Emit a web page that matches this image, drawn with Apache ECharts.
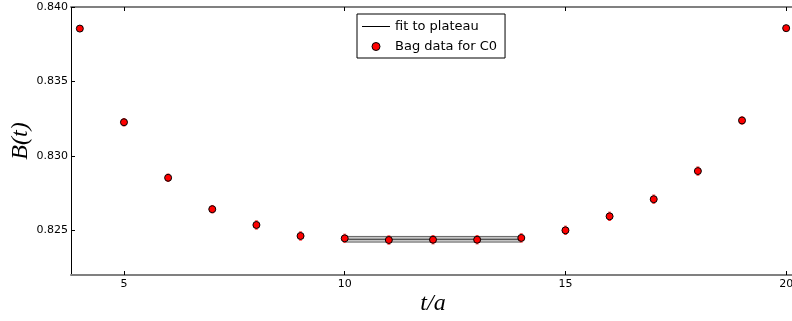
<!DOCTYPE html>
<html>
<head>
<meta charset="utf-8">
<script src="https://cdn.jsdelivr.net/npm/echarts@6/dist/echarts.min.js"></script>
<style>
  html, body { margin: 0; padding: 0; background: #fff; }
  #chart { width: 792px; height: 321px; }
</style>
</head>
<body>
<div id="chart"></div>
<script>
// data
var tValues = [4, 5, 6, 7, 8, 9, 10, 11, 12, 13, 14, 15, 16, 17, 18, 19, 20];
var bagValues = [0.83855, 0.83226, 0.82853, 0.82642, 0.82536, 0.82462, 0.82446, 0.82435, 0.82437, 0.82437, 0.82449, 0.82500, 0.82594, 0.82709, 0.82898, 0.83238, 0.83858];
var bagErrors = [0.00015, 0.00025, 0.00025, 0.00025, 0.00028, 0.00028, 0.00028, 0.00028, 0.00028, 0.00028, 0.00028, 0.00028, 0.00028, 0.00028, 0.00028, 0.00025, 0.00015];
var fitRange = [10, 14];
var fitValue = 0.82440;
var fitError = 0.00019;
var xTicks = [5, 10, 15, 20];
var yTicks = [0.825, 0.830, 0.835, 0.840];

var myChart = echarts.init(document.getElementById("chart"));

var points = [];
var errs = [];
for (var i = 0; i < tValues.length; i++) {
  points.push([tValues[i], bagValues[i]]);
  errs.push([tValues[i], bagValues[i] - bagErrors[i], bagValues[i] + bagErrors[i]]);
}

// error bars drawn as a custom series
function drawError(params, api) {
  var top = api.coord([api.value(0), api.value(2)]);
  var bot = api.coord([api.value(0), api.value(1)]);
  var st = { stroke: "#ff4040", lineWidth: 1 };
  return {
    type: "group",
    children: [
      { type: "line", shape: { x1: top[0], y1: top[1], x2: bot[0], y2: bot[1] }, style: st },
      { type: "line", shape: { x1: top[0] - 1.5, y1: top[1], x2: top[0] + 1.5, y2: top[1] }, style: st },
      { type: "line", shape: { x1: bot[0] - 1.5, y1: bot[1], x2: bot[0] + 1.5, y2: bot[1] }, style: st }
    ]
  };
}

// grey band of the plateau fit
function drawBand(params, api) {
  var a = api.coord([api.value(0), api.value(3)]);
  var b = api.coord([api.value(1), api.value(2)]);
  return {
    type: "rect",
    shape: { x: a[0], y: a[1], width: b[0] - a[0], height: b[1] - a[1] },
    style: { fill: "#c4c4c4", stroke: "#666", lineWidth: 1 }
  };
}

var tickFont = { fontFamily: "DejaVu Sans", fontSize: 11, color: "#000" };

myChart.setOption({
  animation: false,
  grid: { left: 71, top: 7, right: -3, bottom: 46, outerBoundsMode: "none", containLabel: false },
  legend: {
    orient: "vertical",
    left: 357,
    top: 14,
    padding: [6, 8, 5, 5],
    itemGap: 7,
    itemWidth: 28,
    itemHeight: 8,
    borderColor: "#000",
    borderWidth: 1,
    borderRadius: 0,
    backgroundColor: "#fff",
    textStyle: { fontFamily: "DejaVu Sans", fontSize: 13, color: "#000" },
    data: [
      { name: "fit to plateau", icon: "path://M0,0L28,0L28,1L0,1Z", itemStyle: { color: "#000" } },
      { name: "Bag data for C0", icon: "circle", itemStyle: { color: "#ff0000", borderColor: "#000", borderWidth: 1 } }
    ]
  },
  xAxis: [
    {
      type: "value",
      min: 3.8,
      max: 20.2,
      name: "t/a",
      nameLocation: "middle",
      nameGap: 17,
      nameMoveOverlap: false,
      nameTextStyle: { fontFamily: "Liberation Serif", fontStyle: "italic", fontSize: 24, color: "#000" },
      axisLine: { onZero: false, lineStyle: { color: "#808080", width: 2 } },
      axisTick: { inside: true, length: 4, customValues: xTicks, lineStyle: { color: "#000" } },
      axisLabel: Object.assign({ margin: 4, customValues: xTicks }, tickFont),
      splitLine: { show: false }
    },
    {
      type: "value",
      position: "top",
      min: 3.8,
      max: 20.2,
      axisLine: { onZero: false, lineStyle: { color: "#808080", width: 2 } },
      axisTick: { inside: true, length: 4, customValues: xTicks, lineStyle: { color: "#000" } },
      axisLabel: { show: false },
      splitLine: { show: false }
    }
  ],
  yAxis: {
    type: "value",
    min: 0.822,
    max: 0.840,
    name: "B(t)",
    nameLocation: "middle",
    nameGap: 38,
    nameMoveOverlap: false,
    nameRotate: 90,
    nameTextStyle: { fontFamily: "Liberation Serif", fontStyle: "italic", fontSize: 24, color: "#000" },
    axisLine: { show: true, lineStyle: { color: "#000", width: 1 } },
    axisTick: { show: true, inside: true, length: 4, customValues: yTicks, lineStyle: { color: "#000" } },
    axisLabel: Object.assign({
      margin: 3,
      customValues: yTicks,
      formatter: function (v) { return v.toFixed(3); }
    }, tickFont),
    splitLine: { show: false }
  },
  series: [
    {
      name: "band",
      type: "custom",
      renderItem: drawBand,
      data: [[fitRange[0], fitRange[1], fitValue - fitError, fitValue + fitError]],
      z: 1
    },
    {
      name: "fit to plateau",
      type: "line",
      symbol: "none",
      data: [[fitRange[0], fitValue], [fitRange[1], fitValue]],
      itemStyle: { color: "#000" },
      lineStyle: { color: "#333", width: 1 },
      z: 2
    },
    {
      name: "Bag data for C0",
      type: "scatter",
      symbolSize: 7,
      data: points,
      itemStyle: { color: "#ff0000", borderColor: "#000", borderWidth: 1, opacity: 1 },
      z: 4
    },
    {
      name: "Bag data for C0",
      type: "custom",
      renderItem: drawError,
      data: errs,
      itemStyle: { color: "red" },
      z: 3
    }
  ]
});
</script>
</body>
</html>
